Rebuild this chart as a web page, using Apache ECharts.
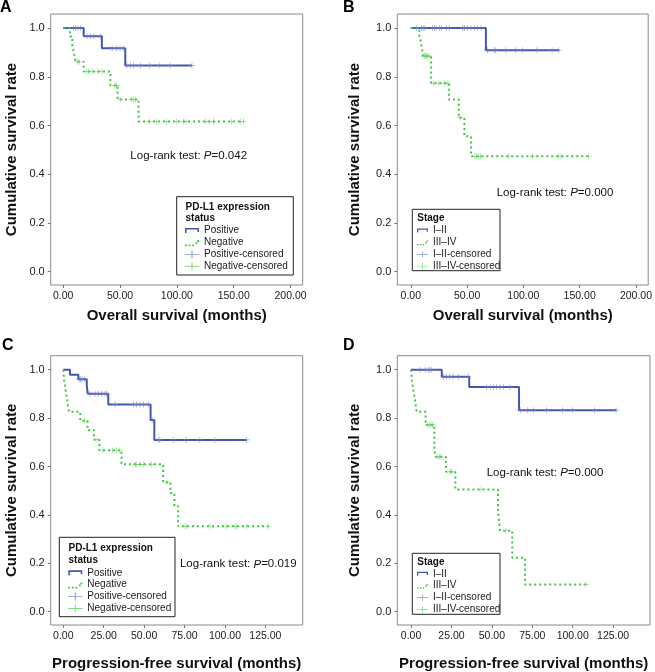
<!DOCTYPE html>
<html><head><meta charset="utf-8">
<script src="https://cdn.jsdelivr.net/npm/echarts@6/dist/echarts.min.js"></script>
<style>html,body{margin:0;padding:0;background:#fff}#c{width:655px;height:672px}</style>
</head><body><div id="c"></div>
<script>
// ---------- tick labels ----------
const xTicksOS = [0, 50, 100, 150, 200];
const xTicksPFS = [0, 25, 50, 75, 100, 125];
const yTicks = [0, 0.2, 0.4, 0.6, 0.8, 1.0];

// ---------- Panel A: OS by PD-L1 ----------
const aPosTime = [0, 18, 34, 54.6, 113.3];
const aPosSurv = [1, 0.967, 0.917, 0.846, 0.846];
const aPosCens = [9, 11, 13, 15, 21, 24, 27, 32.6, 43, 47, 50, 53, 56, 59, 62, 68, 76, 85, 94, 113.3];
const aNegTime = [0, 6, 8, 9.5, 11, 18, 41.5, 47.8, 66.3, 158.5];
const aNegSurv = [1, 0.966, 0.931, 0.897, 0.862, 0.822, 0.764, 0.707, 0.617, 0.617];
const aNegCens = [12.5, 14, 20.5, 22, 25.5, 30.5, 34, 45.5, 47, 50, 60.5, 62, 63.5, 76, 82, 91, 100, 106, 108, 125, 128.5, 132, 148, 156, 158.5];

// ---------- Panel B: OS by stage ----------
const bPosTime = [0, 66.7, 132];
const bPosSurv = [1, 0.909, 0.909];
const bPosCens = [5, 9.5, 11, 12.5, 19.5, 21, 22.5, 25.5, 27, 31.5, 34.5, 46, 47.5, 50.5, 53.5, 56.5, 59.5, 62.5, 68, 74, 75.5, 84.5, 93, 99, 112, 125.5, 131.5];
const bNegTime = [0, 7.5, 9, 10, 11, 18, 33.8, 42.6, 47.6, 53.5, 158];
const bNegSurv = [1, 0.971, 0.943, 0.914, 0.885, 0.774, 0.707, 0.632, 0.556, 0.474, 0.474];
const bNegCens = [12, 13, 14, 15, 16.5, 20, 25, 30, 33, 43.5, 57, 58.5, 60, 62, 87, 108, 131, 133.5, 158];

// ---------- Panel C: PFS by PD-L1 ----------
const cPosTime = [0, 4.1, 9.3, 14.5, 15.1, 27.8, 54, 56.3, 113.4];
const cPosSurv = [1, 0.979, 0.961, 0.936, 0.901, 0.856, 0.792, 0.710, 0.710];
const cPosCens = [9.8, 10.8, 11.5, 13.2, 16.5, 19.6, 21.6, 23.7, 25.8, 26.8, 32, 43.3, 45.4, 47.4, 49.5, 52.6, 55, 58.8, 59.8, 68, 76.3, 84.5, 93.8, 113.4];
const cNegTime = [0, 0.5, 1.5, 2.5, 3.5, 10.5, 15, 19, 22.3, 36, 61.8, 66.3, 68.7, 71, 126.8];
const cNegSurv = [1, 0.957, 0.913, 0.870, 0.826, 0.789, 0.750, 0.711, 0.667, 0.609, 0.535, 0.490, 0.437, 0.353, 0.353];
const cNegCens = [13, 21, 24.5, 30.5, 33, 35, 44.5, 45.5, 47.5, 49.5, 54.5, 64, 75.3, 76.3, 90.7, 101, 106.2, 107.2, 113.4, 126.8];

// ---------- Panel D: PFS by stage ----------
const dPosTime = [0, 19, 36, 66.8, 127];
const dPosSurv = [1, 0.971, 0.929, 0.833, 0.833];
const dPosCens = [5.6, 8.7, 10.7, 11.7, 12.8, 20, 22, 24, 26, 29.2, 35.4, 46.8, 48.9, 50.9, 53, 55, 57.1, 61.2, 67.5, 72, 75.6, 83.9, 93.8, 100, 113.5, 126.8];
const dNegTime = [0, 0.5, 1.5, 2.5, 3.5, 9, 14.4, 15, 21.6, 27.4, 53.8, 55, 62.6, 70.5, 108.2];
const dNegSurv = [1, 0.957, 0.913, 0.870, 0.826, 0.772, 0.683, 0.640, 0.578, 0.505, 0.420, 0.335, 0.223, 0.112, 0.112];
const dNegCens = [10.3, 11.3, 12.3, 13.3, 16.5, 17.5, 18.6, 24.1, 25.1, 42.7, 58.5, 108.2];

// ---------- texts ----------
const pdl1Names = ['Positive', 'Negative', 'Positive-censored', 'Negative-censored'];
const stageNames = ['I\u2013II', 'III\u2013IV', 'I\u2013II-censored', 'III\u2013IV-censored'];
const pValues = ['0.042', '0.000', '0.019', '0.000'];
const xTitles = ['Overall survival (months)', 'Overall survival (months)', 'Progression-free survival (months)', 'Progression-free survival (months)'];
const letters = ['A', 'B', 'C', 'D'];

// ---------- style / layout ----------
const FONT = "'Liberation Sans', Arial, sans-serif";
const BLUE = '#4357ad', GREEN = '#3fc63f', BLUE_C = '#6a7cc8', GREEN_C = '#5ccf5c';
const PLUS = 'path://M0,4.5h10v1h-10z M4.5,0h1v10h-1z';
const ICON_STEP = 'path://M0,0h14v1.6h-14z M0,0h1.6v5h-1.6z M12.4,0h1.6v4h-1.6z';
const ICON_DOT = 'path://M0,6h1.8v1.8h-1.8z M3.6,6h1.8v1.8h-1.8z M7.2,6h1.8v1.8h-1.8z M10.6,3.8h1.8v1.8h-1.8z M12.2,1.6h1.8v1.8h-1.8z M12.2,0h0.01v0.01h-0.01z';
const ICON_CENS = 'path://M0,3.6h14v0.9h-14z M6.5,0h1v8h-1z';

const panels = [
  {grid: {left: 50.7, top: 14, width: 252, height: 271}, xr: [-11, 210.7], ticks: xTicksOS,
   d: [aPosTime, aPosSurv, aPosCens, aNegTime, aNegSurv, aNegCens], names: pdl1Names,
   yGap: 31.5, xGap: 23, letter: [0, 7.5], p: [188.7, 156], iw: 14,
   leg: {box: [176.7, 196.7, 116.6, 78.3], title: 'PD-L1 expression\nstatus', tx: 185.5, ty: 201, lx: 185, ly: 225.5}},
  {grid: {left: 397.3, top: 14, width: 252.7, height: 271}, xr: [-12, 210.9], ticks: xTicksOS,
   d: [bPosTime, bPosSurv, bPosCens, bNegTime, bNegSurv, bNegCens], names: stageNames,
   yGap: 35, xGap: 23, letter: [343, 7.5], p: [555, 192.7], iw: 11,
   leg: {box: [412.3, 209.3, 87.7, 61.4], title: 'Stage', tx: 417.3, ty: 212, lx: 417, ly: 225.5}},
  {grid: {left: 50.7, top: 355.7, width: 252, height: 271}, xr: [-7.8, 148.1], ticks: xTicksPFS,
   d: [cPosTime, cPosSurv, cPosCens, cNegTime, cNegSurv, cNegCens], names: pdl1Names,
   yGap: 31.5, xGap: 31, letter: [2, 345.8], p: [238.3, 564.3], iw: 14,
   leg: {box: [59.3, 537.3, 115.7, 79.4], title: 'PD-L1 expression\nstatus', tx: 68.5, ty: 542.5, lx: 68.3, ly: 567.8}},
  {grid: {left: 397.3, top: 355.7, width: 252.7, height: 271}, xr: [-8.5, 147.8], ticks: xTicksPFS,
   d: [dPosTime, dPosSurv, dPosCens, dNegTime, dNegSurv, dNegCens], names: stageNames,
   yGap: 35, xGap: 31, letter: [343, 345.8], p: [545, 472.7], iw: 11,
   leg: {box: [412.3, 553.3, 87.7, 61], title: 'Stage', tx: 417.3, ty: 556.3, lx: 417, ly: 568.8}}
];

function survAt(T, S, t) {
  let v = S[0];
  for (let i = 0; i < T.length; i++) { if (T[i] <= t) v = S[i]; }
  return v;
}
const pairs = (T, S) => T.map((t, i) => [t, S[i]]);
const cens = (T, S, C) => C.map(c => [c, survAt(T, S, c)]);

const grid = [], xAxis = [], yAxis = [], series = [], legend = [], graphic = [];
panels.forEach((p, i) => {
  grid.push(Object.assign({show: true, borderColor: '#8a8a8a', borderWidth: 1, backgroundColor: '#fff'}, p.grid));
  xAxis.push({
    gridIndex: i, type: 'value', min: p.xr[0], max: p.xr[1], position: 'bottom',
    name: xTitles[i], nameLocation: 'middle', nameGap: p.xGap,
    nameTextStyle: {fontFamily: FONT, fontWeight: 'bold', fontSize: 15, color: '#111'},
    axisLine: {show: false, onZero: false}, splitLine: {show: false},
    axisTick: {show: true, inside: false, length: 3, customValues: p.ticks, lineStyle: {color: '#777'}},
    axisLabel: {customValues: p.ticks, formatter: v => v.toFixed(2), fontFamily: FONT, fontSize: 10.5, color: '#222', margin: 6}
  });
  yAxis.push({
    gridIndex: i, type: 'value', min: -0.055, max: 1.058, position: 'left',
    name: 'Cumulative survival rate', nameLocation: 'middle', nameGap: p.yGap,
    nameTextStyle: {fontFamily: FONT, fontWeight: 'bold', fontSize: 15, color: '#111'},
    axisLine: {show: false, onZero: false}, splitLine: {show: false},
    axisTick: {show: true, inside: false, length: 3, customValues: yTicks, lineStyle: {color: '#777'}},
    axisLabel: {customValues: yTicks, formatter: v => v.toFixed(1), fontFamily: FONT, fontSize: 11, color: '#222', margin: 6}
  });
  const [pt, ps, pc, nt, ns, nc] = p.d;
  series.push(
    {type: 'line', name: p.names[0], xAxisIndex: i, yAxisIndex: i, data: pairs(pt, ps), step: 'end',
     symbol: 'none', lineStyle: {color: BLUE, width: 2}, itemStyle: {color: BLUE}, z: 3, animation: false},
    {type: 'line', name: p.names[1], xAxisIndex: i, yAxisIndex: i, data: pairs(nt, ns), step: 'end',
     symbol: 'none', lineStyle: {color: GREEN, width: 2, type: [2, 3], cap: 'butt'}, itemStyle: {color: GREEN}, z: 3, animation: false},
    {type: 'scatter', name: p.names[2], xAxisIndex: i, yAxisIndex: i, data: cens(pt, ps, pc),
     symbol: PLUS, symbolSize: 6, itemStyle: {color: BLUE_C}, z: 4, animation: false},
    {type: 'scatter', name: p.names[3], xAxisIndex: i, yAxisIndex: i, data: cens(nt, ns, nc),
     symbol: PLUS, symbolSize: 6, itemStyle: {color: GREEN_C}, z: 4, animation: false}
  );
  const L = p.leg;
  legend.push({
    orient: 'vertical', left: L.lx, top: L.ly, padding: 0, itemWidth: p.iw, itemHeight: 9, itemGap: 1.9,
    selectedMode: false, z: 10,
    textStyle: {fontFamily: FONT, fontSize: 10, color: '#222', lineHeight: 10},
    data: [
      {name: p.names[0], icon: ICON_STEP, itemStyle: {color: BLUE, borderWidth: 0}},
      {name: p.names[1], icon: ICON_DOT, itemStyle: {color: GREEN, borderWidth: 0}},
      {name: p.names[2], icon: ICON_CENS, itemStyle: {color: BLUE_C, borderWidth: 0}},
      {name: p.names[3], icon: ICON_CENS, itemStyle: {color: GREEN_C, borderWidth: 0}}
    ]
  });
  graphic.push(
    {type: 'rect', z: 5, shape: {x: L.box[0], y: L.box[1], width: L.box[2], height: L.box[3]},
     style: {fill: '#fff', stroke: '#222', lineWidth: 1}},
    {type: 'text', z: 6, x: L.tx, y: L.ty,
     style: {text: L.title, fontFamily: FONT, fontWeight: 'bold', fontSize: 10, lineHeight: 11.7, fill: '#111', align: 'left', verticalAlign: 'top'}},
    {type: 'text', z: 6, x: p.letter[0], y: p.letter[1],
     style: {text: letters[i], fontFamily: FONT, fontWeight: 'bold', fontSize: 16, fill: '#000', align: 'left', verticalAlign: 'middle'}},
    {type: 'text', z: 6, x: p.p[0], y: p.p[1],
     style: {text: '{a|Log-rank test: }{b|P}{a|=' + pValues[i] + '}', align: 'center', verticalAlign: 'middle',
       rich: {a: {fontFamily: FONT, fontSize: 11.5, fill: '#111'}, b: {fontFamily: FONT, fontSize: 11.5, fontStyle: 'italic', fill: '#111'}}}}
  );
});

const chart = echarts.init(document.getElementById('c'), null, {renderer: 'canvas'});
chart.setOption({animation: false, backgroundColor: '#fff', grid, xAxis, yAxis, series, legend, graphic});
</script></body></html>
